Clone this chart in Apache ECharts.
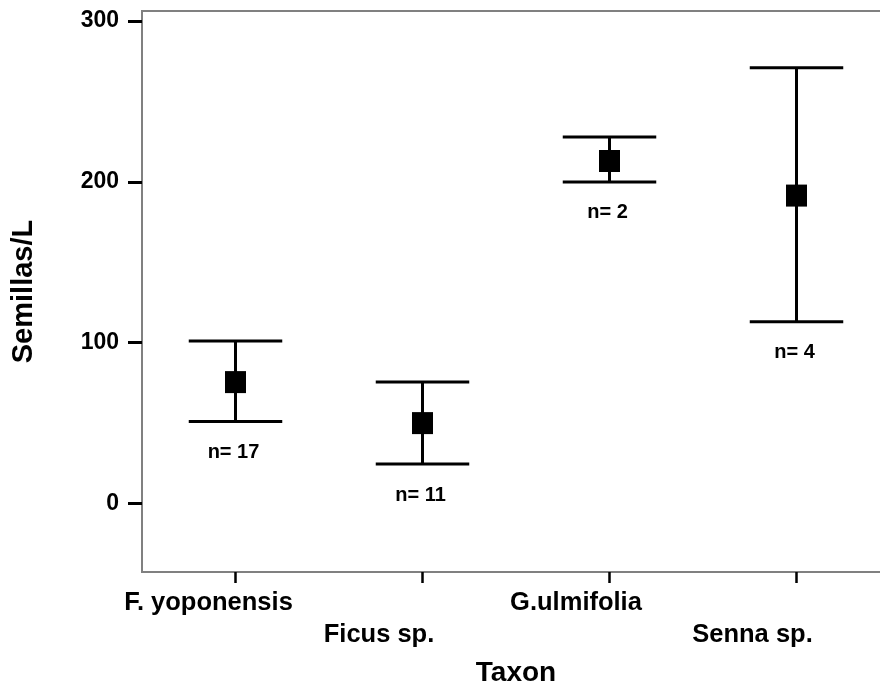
<!DOCTYPE html>
<html>
<head>
<meta charset="utf-8">
<script src="https://cdn.jsdelivr.net/npm/echarts@6/dist/echarts.min.js"></script>
<style>html,body{margin:0;padding:0;background:#fff}#c{width:880px;height:684px}</style>
</head>
<body>
<div id="c"></div>
<script>
const categories = ['F. yoponensis', 'Ficus sp.', 'G.ulmifolia', 'Senna sp.'];
const means = [75.5, 50, 213, 191.5];
const lowers = [51, 24.5, 200, 113];
const uppers = [101, 75.5, 228, 271];
const counts = [17, 11, 2, 4];
const yTicks = [0, 100, 200, 300];

const FONT = 'Liberation Sans';
const chart = echarts.init(document.getElementById('c'));
const labelShift = [54, 87, 67, 88];
const rich = {};
categories.forEach((c, i) => {
  rich['b' + i] = { fontFamily: FONT, fontWeight: 'bold', fontSize: 25.5, color: '#000', lineHeight: 32, padding: [0, labelShift[i], 0, 0] };
});

chart.setOption({
  animation: false,
  backgroundColor: '#fff',
  grid: { left: 142, top: 11, width: 748, height: 561, outerBoundsMode: 'none', containLabel: false, show: true, borderColor: '#808080', borderWidth: 2, backgroundColor: 'transparent' },
  xAxis: {
    type: 'category',
    data: categories,
    boundaryGap: true,
    name: 'Taxon',
    nameLocation: 'middle',
    nameGap: 87,
    nameTextStyle: { fontFamily: FONT, fontWeight: 'bold', fontSize: 28, color: '#000' },
    axisLine: { show: true, onZero: false, lineStyle: { color: '#808080', width: 2 } },
    axisTick: { show: true, alignWithLabel: true, length: 11, lineStyle: { color: '#000', width: 2.5 } },
    axisLabel: {
      interval: 0,
      margin: 15,
      fontFamily: FONT, fontWeight: 'bold', fontSize: 25.5, color: '#000', lineHeight: 32,
      formatter: (v, i) => (i % 2 ? '\n' : '') + '{b' + i + '|' + v + '}',
      rich: rich
    },
    splitLine: { show: false }
  },
  yAxis: {
    type: 'value',
    min: -42.6,
    max: 306.3,
    name: 'Semillas/L',
    nameLocation: 'middle',
    nameGap: 104,
    nameTextStyle: { fontFamily: FONT, fontWeight: 'bold', fontSize: 29, color: '#000' },
    axisLine: { show: true, lineStyle: { color: '#808080', width: 2 } },
    axisTick: { show: true, customValues: yTicks, length: 14, lineStyle: { color: '#000', width: 3 } },
    axisLabel: { customValues: yTicks, margin: 23, fontFamily: FONT, fontWeight: 'bold', fontSize: 23, color: '#000' },
    splitLine: { show: false }
  },
  series: [{
    type: 'custom',
    data: categories.map((c, i) => [i, means[i], lowers[i], uppers[i], counts[i]]),
    encode: { x: 0, y: [1, 2, 3] },
    renderItem: function (params, api) {
      const i = api.value(0);
      const pM = api.coord([i, api.value(1)]);
      const pL = api.coord([i, api.value(2)]);
      const pH = api.coord([i, api.value(3)]);
      const hw = api.size([1, 0])[0] * 0.25;
      const ls = { stroke: '#000', lineWidth: 3 };
      return {
        type: 'group',
        children: [
          { type: 'line', shape: { x1: pL[0], y1: pL[1], x2: pH[0], y2: pH[1] }, style: ls },
          { type: 'line', shape: { x1: pL[0] - hw, y1: pL[1], x2: pL[0] + hw, y2: pL[1] }, style: ls },
          { type: 'line', shape: { x1: pH[0] - hw, y1: pH[1], x2: pH[0] + hw, y2: pH[1] }, style: ls },
          { type: 'rect', shape: { x: pM[0] - 10.5, y: pM[1] - 11, width: 21, height: 22 }, style: { fill: '#000' } },
          { type: 'text', style: { text: 'n= ' + api.value(4), x: pL[0] - 2, y: pL[1] + 31, align: 'center', verticalAlign: 'middle', font: 'bold 20px "Liberation Sans"', fill: '#000' } }
        ]
      };
    }
  }]
});
</script>
</body>
</html>
